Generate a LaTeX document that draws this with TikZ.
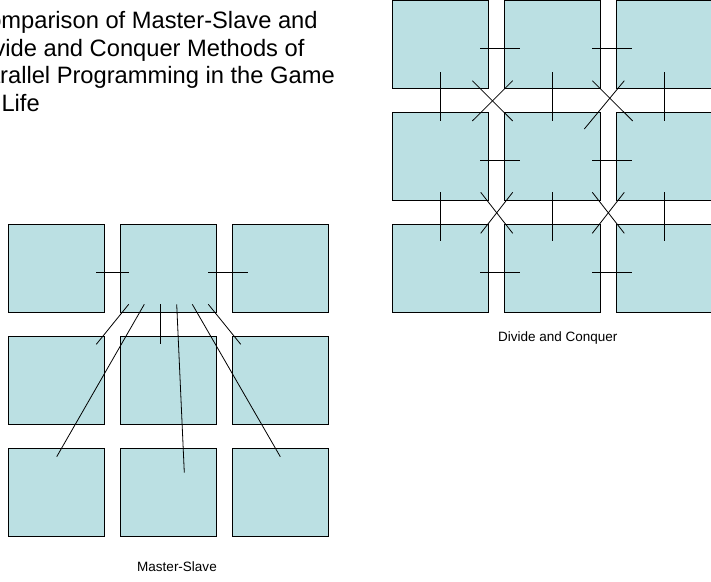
\documentclass[tikz,border=0pt]{standalone}
\usepackage{fontspec}
\setmainfont{Liberation Sans}
\definecolor{boxfill}{HTML}{BBE0E3}
\begin{document}
\begin{tikzpicture}[x=1pt,y=-1pt,
  gbox/.style={draw=black, line width=0.9pt, fill=boxfill, minimum width=96pt, minimum height=88pt, inner sep=0pt, outer sep=0pt, anchor=north west},
  link/.style={draw=black, line width=0.8pt},
  titletext/.style={anchor=base west, inner sep=0pt, font=\fontsize{23.7}{27.8}\selectfont},
  caption/.style={anchor=base, inner sep=0pt, font=\fontsize{13.5}{16}\selectfont}]
\useasboundingbox (0,0) rectangle (711,581);
\fill[white] (0,0) rectangle (711,581);
\clip (0,0) rectangle (711,581);
% title
\node[titletext] (t1) at (-29,28.3) {Comparison of Master-Slave and};
\node[titletext] (t2) at (-29,56.1) {Divide and Conquer Methods of};
\node[titletext] (t3) at (-29,83.9) {Parallel Programming in the Game};
\node[titletext] (t4) at (-25,111.7) {of Life};
% boxes
\foreach \r/\y in {1/224.3,2/336.3,3/448.3}
  \foreach \c/\x in {1/8.3,2/120.3,3/232.3}
    \node[gbox] (L\r\c) at (\x,\y) {};
\foreach \r/\y in {1/0.3,2/112.3,3/224.3}
  \foreach \c/\x in {1/392.3,2/504.3,3/616.3}
    \node[gbox] (R\r\c) at (\x,\y) {};
% master-slave connectors
\draw[link] ([shift={(-8,48)}]L11.north east) -- ([shift={(8.4,48)}]L12.north west);
\draw[link] ([shift={(-8,48)}]L12.north east) -- ([shift={(16,48)}]L13.north west);
\draw[link] ([shift={(8.4,-8)}]L12.south west) -- ([shift={(-8,8)}]L21.north east);
\draw[link] ([shift={(24,-8)}]L12.south west) -- ([shift={(48.4,8.4)}]L31.north west);
\draw[link] ([shift={(40.4,-8)}]L12.south west) -- ([shift={(40.4,8)}]L22.north west);
\draw[link] ([shift={(56.4,-8)}]L12.south west) -- ([shift={(64,24.4)}]L32.north west);
\draw[link] ([shift={(72,-8)}]L12.south west) -- ([shift={(48,8.4)}]L33.north west);
\draw[link] ([shift={(-8,-8)}]L12.south east) -- ([shift={(8.4,8)}]L23.north west);
% divide and conquer connectors
\foreach \r in {1,2,3} {
  \draw[link] ([shift={(-8,48)}]R\r1.north east) -- ([shift={(16,48)}]R\r2.north west);
  \draw[link] ([shift={(-8,48)}]R\r2.north east) -- ([shift={(16,48)}]R\r3.north west);
}
\foreach \c in {1,2,3} {
  \draw[link] ([shift={(0,-16)}]R1\c.south) -- ([shift={(0,8.7)}]R2\c.north);
  \draw[link] ([shift={(0,-8)}]R2\c.south) -- ([shift={(0,16.7)}]R3\c.north);
}
\draw[link] ([shift={(-16,-7.6)}]R11.south east) -- ([shift={(8.4,8.7)}]R22.north west);
\draw[link] ([shift={(8.4,-7.6)}]R12.south west) -- ([shift={(-16,8.7)}]R21.north east);
\draw[link] ([shift={(-8,-7.6)}]R12.south east) -- ([shift={(16.4,8.7)}]R23.north west);
\draw[link] ([shift={(8,-7.6)}]R13.south west) -- ([shift={(-16,16.7)}]R22.north east);
\draw[link] ([shift={(-7.6,-8)}]R21.south east) -- ([shift={(8.4,9)}]R32.north west);
\draw[link] ([shift={(8.4,-8)}]R22.south west) -- ([shift={(-7.6,9)}]R31.north east);
\draw[link] ([shift={(-8,-8)}]R22.south east) -- ([shift={(8,9)}]R33.north west);
\draw[link] ([shift={(8,-8)}]R23.south west) -- ([shift={(-8,9)}]R32.north east);
% captions
\node[caption] (cap1) at (177,571) {Master-Slave};
\node[caption] (cap2) at (557.8,341.7) {Divide and Conquer};
\end{tikzpicture}
\end{document}
